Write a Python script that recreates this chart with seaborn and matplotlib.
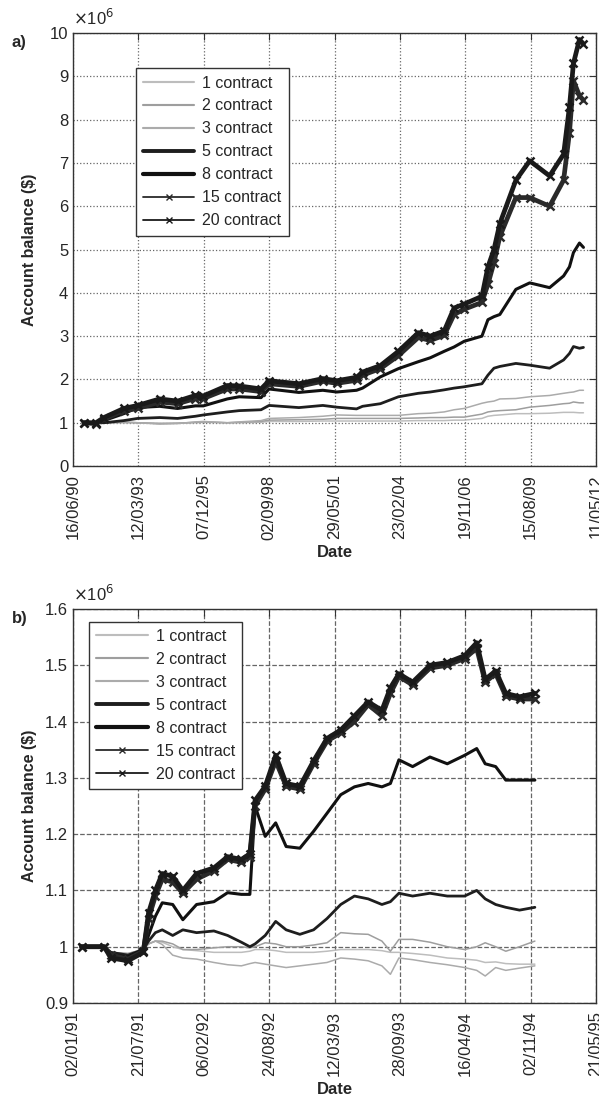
import numpy as np
import pandas as pd
import seaborn as sns
import matplotlib.pyplot as plt
import matplotlib.dates as mdates
from matplotlib.lines import Line2D
from matplotlib.ticker import FuncFormatter

# ---- panel a) data (account balance in millions of $) ----
top_dates = ['1990-12-01', '1991-06-01', '1991-10-01', '1992-08-01', '1993-03-01', '1994-02-01',
             '1994-11-01', '1995-08-01', '1995-12-01', '1996-12-01', '1997-06-01', '1998-05-01',
             '1998-09-01', '1999-12-01', '2000-12-01', '2001-07-01', '2002-05-01', '2002-08-01',
             '2003-05-01', '2004-02-01', '2004-12-01', '2005-06-01', '2006-01-01', '2006-06-01',
             '2006-11-01', '2007-08-01', '2007-11-01', '2008-02-01', '2008-05-01', '2009-01-01',
             '2009-08-01', '2010-06-01', '2011-01-01', '2011-04-01', '2011-06-01', '2011-09-01',
             '2011-11-01']
top_1 = [1.0, 0.99, 1.0, 1.0, 1.0, 0.99, 0.99, 1.0, 1.01, 1.0, 1.0, 1.01, 1.03, 1.03, 1.04, 1.04,
         1.04, 1.04, 1.04, 1.04, 1.05, 1.05, 1.05, 1.06, 1.06, 1.10, 1.15, 1.17, 1.18, 1.21, 1.21,
         1.22, 1.24, 1.24, 1.24, 1.23, 1.23]
top_2 = [1.0, 0.99, 1.0, 1.01, 1.0, 0.98, 0.99, 1.01, 1.02, 1.0, 1.01, 1.03, 1.06, 1.07, 1.08, 1.10,
         1.10, 1.10, 1.10, 1.10, 1.11, 1.12, 1.12, 1.13, 1.13, 1.20, 1.25, 1.27, 1.28, 1.30, 1.36,
         1.40, 1.44, 1.45, 1.48, 1.46, 1.46]
top_3 = [1.0, 0.98, 1.0, 1.02, 1.0, 0.97, 0.98, 1.02, 1.03, 1.0, 1.02, 1.05, 1.10, 1.12, 1.15, 1.18,
         1.17, 1.17, 1.17, 1.17, 1.21, 1.22, 1.25, 1.30, 1.33, 1.45, 1.48, 1.50, 1.55, 1.56, 1.60,
         1.63, 1.68, 1.70, 1.71, 1.75, 1.75]
top_5 = [1.0, 1.0, 1.0, 1.05, 1.10, 1.12, 1.10, 1.15, 1.18, 1.25, 1.28, 1.30, 1.40, 1.35, 1.40, 1.36,
         1.32, 1.38, 1.44, 1.60, 1.68, 1.71, 1.76, 1.80, 1.83, 1.90, 2.10, 2.26, 2.30, 2.37, 2.33,
         2.26, 2.45, 2.60, 2.76, 2.72, 2.74]
top_8 = [1.0, 1.0, 1.05, 1.21, 1.35, 1.38, 1.33, 1.39, 1.39, 1.55, 1.60, 1.58, 1.78, 1.70, 1.75, 1.71,
         1.75, 1.80, 2.06, 2.25, 2.41, 2.50, 2.65, 2.75, 2.88, 3.00, 3.38, 3.45, 3.50, 4.08, 4.23,
         4.12, 4.39, 4.60, 4.93, 5.15, 5.05]
top_15 = [1.0, 0.98, 1.08, 1.28, 1.33, 1.48, 1.44, 1.56, 1.56, 1.78, 1.78, 1.72, 1.90, 1.84, 1.96, 1.91,
          1.98, 2.10, 2.25, 2.55, 2.97, 2.90, 3.02, 3.50, 3.62, 3.78, 4.20, 4.70, 5.30, 6.20, 6.20,
          6.00, 6.60, 7.70, 8.90, 8.55, 8.45]
top_20 = [1.0, 1.0, 1.12, 1.33, 1.40, 1.55, 1.50, 1.63, 1.62, 1.86, 1.85, 1.78, 1.97, 1.90, 2.02, 1.97,
          2.05, 2.17, 2.32, 2.65, 3.08, 3.00, 3.12, 3.65, 3.74, 3.92, 4.60, 5.00, 5.60, 6.60, 7.05,
          6.70, 7.20, 8.30, 9.30, 9.85, 9.75]
top_ticks = ['16/06/90', '12/03/93', '07/12/95', '02/09/98', '29/05/01', '23/02/04',
             '19/11/06', '15/08/09', '11/05/12']

# ---- panel b) data ----
bot_dates = ['1991-01-28', '1991-04-07', '1991-04-28', '1991-06-19', '1991-08-05', '1991-08-21',
             '1991-09-11', '1991-10-02', '1991-11-03', '1991-12-04', '1992-01-15', '1992-03-08',
             '1992-04-19', '1992-05-31', '1992-06-26', '1992-07-12', '1992-08-12', '1992-09-13',
             '1992-10-15', '1992-11-26', '1993-01-07', '1993-02-17', '1993-03-31', '1993-05-12',
             '1993-06-23', '1993-08-04', '1993-08-30', '1993-09-25', '1993-11-06', '1993-12-29',
             '1994-02-20', '1994-04-14', '1994-05-21', '1994-06-16', '1994-07-18', '1994-08-18',
             '1994-09-29', '1994-11-15']
bot_1 = [1.0, 1.0, 0.99, 0.988, 0.995, 1.005, 1.01, 1.008, 1.0, 0.995, 0.993, 0.99, 0.99, 0.99, 0.992,
         0.995, 0.995, 0.993, 0.99, 0.99, 0.99, 0.992, 0.995, 0.995, 0.995, 0.993, 0.99, 0.99, 0.988,
         0.985, 0.98, 0.978, 0.976, 0.972, 0.973, 0.97, 0.969, 0.969]
bot_2 = [1.0, 1.0, 0.99, 0.988, 0.995, 1.005, 1.01, 1.01, 1.005, 0.995, 0.995, 0.998, 1.0, 1.0, 0.998,
         1.0, 1.007, 1.005, 1.0, 1.0, 1.003, 1.007, 1.025, 1.023, 1.022, 1.01, 0.992, 1.013, 1.013,
         1.008, 1.0, 0.995, 1.0, 1.007, 1.0, 0.992, 1.0, 1.01]
bot_3 = [1.0, 1.0, 0.99, 0.985, 0.995, 1.005, 1.01, 1.004, 0.985, 0.98, 0.978, 0.972, 0.968, 0.966, 0.97,
         0.972, 0.969, 0.966, 0.963, 0.966, 0.969, 0.972, 0.98, 0.978, 0.975, 0.966, 0.951, 0.98, 0.977,
         0.972, 0.968, 0.963, 0.958, 0.948, 0.963, 0.958, 0.962, 0.966]
bot_5 = [1.0, 1.0, 0.99, 0.985, 0.995, 1.01, 1.025, 1.03, 1.02, 1.03, 1.025, 1.028, 1.02, 1.008, 1.0,
         1.005, 1.02, 1.045, 1.03, 1.022, 1.03, 1.05, 1.075, 1.09, 1.085, 1.075, 1.08, 1.095, 1.09,
         1.095, 1.09, 1.09, 1.10, 1.085, 1.075, 1.07, 1.065, 1.07]
bot_8 = [1.0, 1.0, 0.985, 0.982, 0.995, 1.02, 1.054, 1.078, 1.075, 1.048, 1.075, 1.08, 1.096, 1.093,
         1.093, 1.25, 1.196, 1.22, 1.178, 1.175, 1.205, 1.237, 1.27, 1.284, 1.29, 1.284, 1.29, 1.332,
         1.32, 1.337, 1.325, 1.34, 1.352, 1.325, 1.32, 1.296, 1.296, 1.296]
bot_15 = [1.0, 1.0, 0.985, 0.978, 0.992, 1.05, 1.09, 1.12, 1.115, 1.095, 1.12, 1.135, 1.155, 1.15, 1.16,
          1.25, 1.28, 1.33, 1.285, 1.28, 1.325, 1.365, 1.38, 1.40, 1.43, 1.41, 1.45, 1.48, 1.465, 1.495,
          1.50, 1.512, 1.53, 1.47, 1.485, 1.445, 1.44, 1.44]
bot_20 = [1.0, 1.0, 0.98, 0.975, 0.99, 1.06, 1.10, 1.13, 1.125, 1.10, 1.13, 1.14, 1.16, 1.155, 1.165,
          1.26, 1.285, 1.34, 1.29, 1.285, 1.33, 1.37, 1.385, 1.41, 1.435, 1.42, 1.46, 1.485, 1.47, 1.50,
          1.505, 1.517, 1.54, 1.475, 1.49, 1.45, 1.444, 1.45]
bot_ticks = ['02/01/91', '21/07/91', '06/02/92', '24/08/92', '12/03/93', '28/09/93',
             '16/04/94', '02/11/94', '21/05/95']

names = ['1 contract', '2 contract', '3 contract', '5 contract', '8 contract', '15 contract', '20 contract']

sns.set_style('white')
plt.rcParams['font.family'] = ['Liberation Sans', 'DejaVu Sans']

styles = {
    '1 contract': dict(color='#bdbdbd', lw=1.1),
    '2 contract': dict(color='#9e9e9e', lw=1.1),
    '3 contract': dict(color='#ababab', lw=1.1),
    '5 contract': dict(color='#1e1e1e', lw=2.0),
    '8 contract': dict(color='#111111', lw=2.2),
    '15 contract': dict(color='#2a2a2a', lw=1.0, marker='x'),
    '20 contract': dict(color='#1a1a1a', lw=1.0, marker='x'),
}


def make_df(dates, series):
    rows = []
    for n, vals in zip(names, series):
        rows.append(pd.DataFrame({'date': pd.to_datetime(dates), 'value': vals, 'series': n}))
    return pd.concat(rows, ignore_index=True)


def draw(ax, df, ticks, ylim, yticks, grid_ls, leg_anchor):
    for n in names:
        st = styles[n]
        sub = df[df.series == n]
        if 'marker' in st:
            sns.lineplot(data=sub, x='date', y='value', ax=ax, color=st['color'], lw=3.4,
                         marker='x', markersize=6, markeredgewidth=1.8, markeredgecolor=st['color'],
                         estimator=None, sort=False, legend=False)
        else:
            sns.lineplot(data=sub, x='date', y='value', ax=ax, color=st['color'], lw=st['lw'],
                         estimator=None, sort=False, legend=False)
    tk = pd.to_datetime(ticks, format='%d/%m/%y')
    ax.set_xlim(tk[0], tk[-1])
    ax.set_xticks(tk)
    ax.xaxis.set_major_formatter(mdates.DateFormatter('%d/%m/%y'))
    ax.set_ylim(*ylim)
    ax.set_yticks(yticks)
    ax.yaxis.set_major_formatter(FuncFormatter(lambda v, p: f'{v:g}'))
    ax.grid(True, color='#666666', ls=grid_ls, lw=0.9)
    ax.tick_params(axis='both', direction='in', top=True, right=True, length=5, width=0.8,
                   labelsize=12, color='#333333')
    ax.tick_params(axis='x', rotation=90, pad=6)
    for s in ax.spines.values():
        s.set_color('#333333')
        s.set_linewidth(1.0)
    ax.set_xlabel('Date', fontsize=12, fontweight='bold')
    ax.set_ylabel('Account balance ($)', fontsize=11.5, fontweight='bold')
    ax.yaxis.set_label_coords(-0.068, 0.5)
    ax.text(0, 1.012, r'$\times$10$^{6}$', transform=ax.transAxes, fontsize=12, va='bottom', ha='left')
    handles = []
    for n in names:
        st = styles[n]
        if 'marker' in st:
            handles.append(Line2D([0, 1], [0, 0], color=st['color'], lw=1.3, marker='x', markersize=4))
        else:
            handles.append(Line2D([0, 1], [0, 0], color=st['color'], lw=min(st['lw'] * 1.4, 3.0)))
    leg = ax.legend(handles, names, loc='upper left', bbox_to_anchor=leg_anchor, borderaxespad=0,
                    fontsize=11.5, frameon=True, fancybox=False, framealpha=1, edgecolor='#333333',
                    handlelength=3.2, handletextpad=0.5, labelspacing=0.5, borderpad=0.45,
                    numpoints=1)
    leg.get_frame().set_linewidth(1.0)


fig = plt.figure(figsize=(5.99, 11.01), dpi=100)
ax1 = fig.add_axes([0.1219, 0.5767, 0.8731, 0.3933])
ax2 = fig.add_axes([0.1219, 0.0890, 0.8731, 0.3579])

df_top = make_df(top_dates, [top_1, top_2, top_3, top_5, top_8, top_15, top_20])
df_bot = make_df(bot_dates, [bot_1, bot_2, bot_3, bot_5, bot_8, bot_15, bot_20])

draw(ax1, df_top, top_ticks, (0, 10), np.arange(0, 11, 1), ':', (0.1205, 0.9185))
draw(ax2, df_bot, bot_ticks, (0.9, 1.6), np.round(np.arange(0.9, 1.61, 0.1), 1), '--', (0.031, 0.968))
ax1.xaxis.set_label_coords(0.5, -0.183)
ax2.xaxis.set_label_coords(0.5, -0.2)

fig.text(12 / 599, 1 - 42 / 1101, 'a)', fontsize=12, fontweight='bold', va='center')
fig.text(12 / 599, 1 - 618 / 1101, 'b)', fontsize=12, fontweight='bold', va='center')

plt.savefig('out.png', dpi=100)
